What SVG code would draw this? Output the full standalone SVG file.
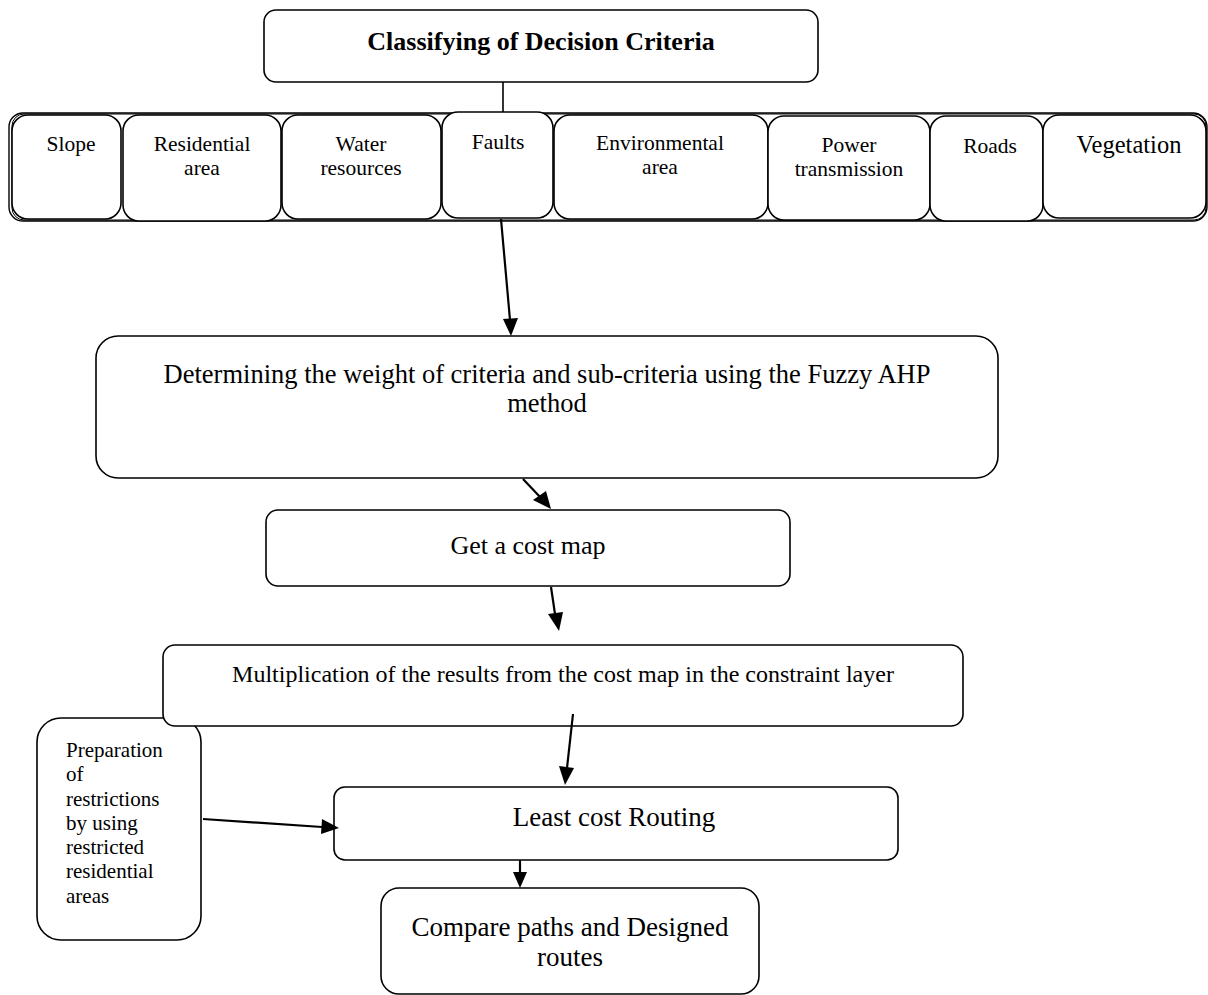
<svg xmlns="http://www.w3.org/2000/svg" width="1208" height="995" viewBox="0 0 1208 995">
<defs>
<style>
.box{fill:#fff;stroke:#000;stroke-width:1.6}
.t{font-family:"Liberation Serif","Times New Roman",serif;fill:#000;text-anchor:middle}
.tl{font-family:"Liberation Serif","Times New Roman",serif;fill:#000}
.c{font-size:21.5px}
.ln{stroke:#000;stroke-width:2.2;fill:none}
.hd{fill:#000}
</style>
</defs>
<rect width="1208" height="995" fill="#fff"/>

<g id="title">
<rect class="box" x="264" y="10" width="554" height="72" rx="12"/>
<text class="t" x="541" y="50" font-size="26" font-weight="bold">Classifying of Decision Criteria</text>
</g>

<g id="criteria-row">
<rect x="9" y="113" width="1198" height="108" rx="14" fill="#fff" stroke="#000" stroke-width="1.4"/>
<rect x="12" y="114" width="1194" height="106" rx="12" fill="none" stroke="#000" stroke-width="1"/>
</g>

<g id="slope">
<rect class="box" x="12" y="115" width="109" height="104" rx="16"/>
<text class="t c" x="71" y="151">Slope</text>
</g>
<g id="residential">
<rect class="box" x="123" y="115" width="158" height="106" rx="16"/>
<text class="t c" x="202" y="151">Residential</text>
<text class="t c" x="202" y="175">area</text>
</g>
<g id="water">
<rect class="box" x="282" y="115" width="159" height="104" rx="16"/>
<text class="t c" x="361" y="151">Water</text>
<text class="t c" x="361" y="175">resources</text>
</g>
<g id="faults">
<rect class="box" x="442" y="112" width="111" height="106" rx="16"/>
<text class="t c" x="498" y="149">Faults</text>
</g>
<g id="environmental">
<rect class="box" x="554" y="115" width="214" height="104" rx="16"/>
<text class="t c" x="660" y="150">Environmental</text>
<text class="t c" x="660" y="174">area</text>
</g>
<g id="power">
<rect class="box" x="768" y="116" width="162" height="104" rx="16"/>
<text class="t c" x="849" y="152">Power</text>
<text class="t c" x="849" y="176">transmission</text>
</g>
<g id="roads">
<rect class="box" x="930" y="116" width="113" height="105" rx="16"/>
<text class="t c" x="990" y="153">Roads</text>
</g>
<g id="vegetation">
<rect class="box" x="1043" y="115" width="163" height="103" rx="16"/>
<text class="t" x="1129" y="153" font-size="24.5">Vegetation</text>
</g>

<g id="fuzzy-ahp">
<rect class="box" x="96" y="336" width="902" height="142" rx="22"/>
<text class="t" x="547" y="383" font-size="26.5">Determining the weight of criteria and sub-criteria using the Fuzzy AHP</text>
<text class="t" x="547" y="412" font-size="26.5">method</text>
</g>

<g id="cost-map">
<rect class="box" x="266" y="510" width="524" height="76" rx="12"/>
<text class="t" x="528" y="554" font-size="26">Get a cost map</text>
</g>

<g id="restrictions">
<rect class="box" x="37" y="718" width="164" height="222" rx="24"/>
<text class="tl" font-size="21" x="66" y="757">Preparation</text>
<text class="tl" font-size="21" x="66" y="781">of</text>
<text class="tl" font-size="21" x="66" y="806">restrictions</text>
<text class="tl" font-size="21" x="66" y="830">by using</text>
<text class="tl" font-size="21" x="66" y="854">restricted</text>
<text class="tl" font-size="21" x="66" y="878">residential</text>
<text class="tl" font-size="21" x="66" y="903">areas</text>
</g>

<g id="multiplication">
<rect class="box" x="163" y="645" width="800" height="81" rx="12"/>
<text class="t" x="563" y="682" font-size="24">Multiplication of the results from the cost map in the constraint layer</text>
</g>

<g id="least-cost">
<rect class="box" x="334" y="787" width="564" height="73" rx="11"/>
<text class="t" x="614" y="826" font-size="27">Least cost Routing</text>
</g>

<g id="compare">
<rect class="box" x="381" y="888" width="378" height="106" rx="18"/>
<text class="t" x="570" y="936" font-size="27">Compare paths and Designed</text>
<text class="t" x="570" y="966" font-size="27">routes</text>
</g>

<g id="connectors">
<line x1="503" y1="82" x2="503" y2="112" stroke="#000" stroke-width="1.6"/>
<line class="ln" x1="501" y1="219" x2="510" y2="320"/>
<path class="hd" d="M503,319 L518,318 L511,336 z"/>
<line class="ln" x1="523" y1="479" x2="541" y2="498"/>
<path class="hd" d="M533,500 L546,491 L551,509 z"/>
<line class="ln" x1="551" y1="587" x2="555" y2="614"/>
<path class="hd" d="M548,614 L563,612 L559,631 z"/>
<line class="ln" x1="573" y1="714" x2="567" y2="768"/>
<path class="hd" d="M559,766 L574,768 L565,785 z"/>
<line class="ln" x1="203" y1="819" x2="322" y2="827"/>
<path class="hd" d="M322,819 L339,828 L321,834 z"/>
<line class="ln" x1="520" y1="860" x2="520" y2="872"/>
<path class="hd" d="M513,872 L527,872 L520,888 z"/>
</g>
</svg>
